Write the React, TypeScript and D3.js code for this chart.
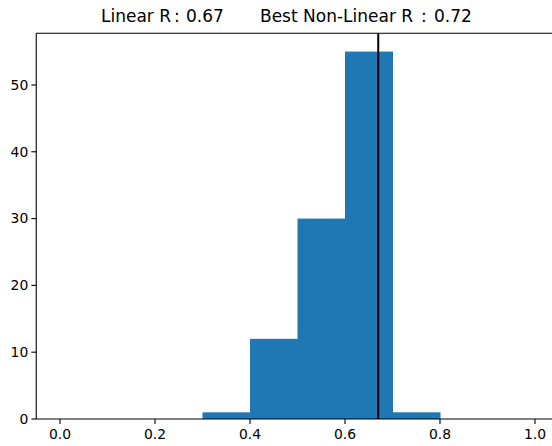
import * as d3 from 'd3'

// histogram bins (left edges) and counts
const binEdges = [0.0, 0.1, 0.2, 0.3, 0.4, 0.5, 0.6, 0.7, 0.8, 0.9, 1.0]
const counts = [0, 0, 0, 1, 12, 30, 55, 1, 0, 0]
const linearR = 0.67
const bestR = 0.72
const xTicks = [0.0, 0.2, 0.4, 0.6, 0.8, 1.0]
const yTicks = [0, 10, 20, 30, 40, 50]

const App = () => {
  const width = 552
  const height = 446
  const left = 36.25
  const right = 558.75
  const top = 33.2
  const bottom = 419

  const x = d3.scaleLinear().domain([-0.05, 1.05]).range([left, right])
  const y = d3.scaleLinear().domain([0, 57.75]).range([bottom, top])

  const bins = counts.map((c, i) => ({ x0: binEdges[i], x1: binEdges[i + 1], c }))
  const font = 'DejaVu Sans, sans-serif'

  return (
    <svg width={width} height={height}
      style={{ position: 'absolute', left: 0, top: 0, background: '#fff' }}
      fontFamily={font}>
      {bins.filter(b => b.c > 0).map((b, i) => (
        <rect key={i} x={x(b.x0)} y={y(b.c)} width={x(b.x1) - x(b.x0) + 0.5}
          height={y(0) - y(b.c)} fill="#1f77b4" />
      ))}
      <line x1={x(linearR)} x2={x(linearR)} y1={top} y2={bottom} stroke="#000" strokeWidth={2} />

      {/* spines */}
      <line x1={left} x2={left} y1={top} y2={bottom} stroke="#000" strokeWidth={1.1} />
      <line x1={left} x2={right} y1={top} y2={top} stroke="#000" strokeWidth={1.1} />
      <line x1={left} x2={right} y1={bottom} y2={bottom} stroke="#000" strokeWidth={1.1} />
      <line x1={right} x2={right} y1={top} y2={bottom} stroke="#000" strokeWidth={1.1} />

      {xTicks.map(t => (
        <g key={t} transform={`translate(${x(t)},${bottom})`}>
          <line y1={0} y2={4.9} stroke="#000" strokeWidth={1.1} />
          <text y={20} textAnchor="middle" fontSize={13.9} fill="#000">{t.toFixed(1)}</text>
        </g>
      ))}
      {yTicks.map(t => (
        <g key={t} transform={`translate(${left},${y(t)})`}>
          <line x1={0} x2={-4.9} stroke="#000" strokeWidth={1.1} />
          <text x={-8} dy="0.35em" textAnchor="end" fontSize={13.9} fill="#000">{t}</text>
        </g>
      ))}

      <text y={22} fontSize={17} fill="#000">
        <tspan x={101}>Linear R</tspan>
        <tspan x={174}>:</tspan>
        <tspan x={186}>{linearR.toFixed(2)}</tspan>
      </text>
      <text y={22} fontSize={17} fill="#000">
        <tspan x={260}>Best Non-Linear R</tspan>
        <tspan x={421}>:</tspan>
        <tspan x={434}>{bestR.toFixed(2)}</tspan>
      </text>
    </svg>
  )
}

export default App
